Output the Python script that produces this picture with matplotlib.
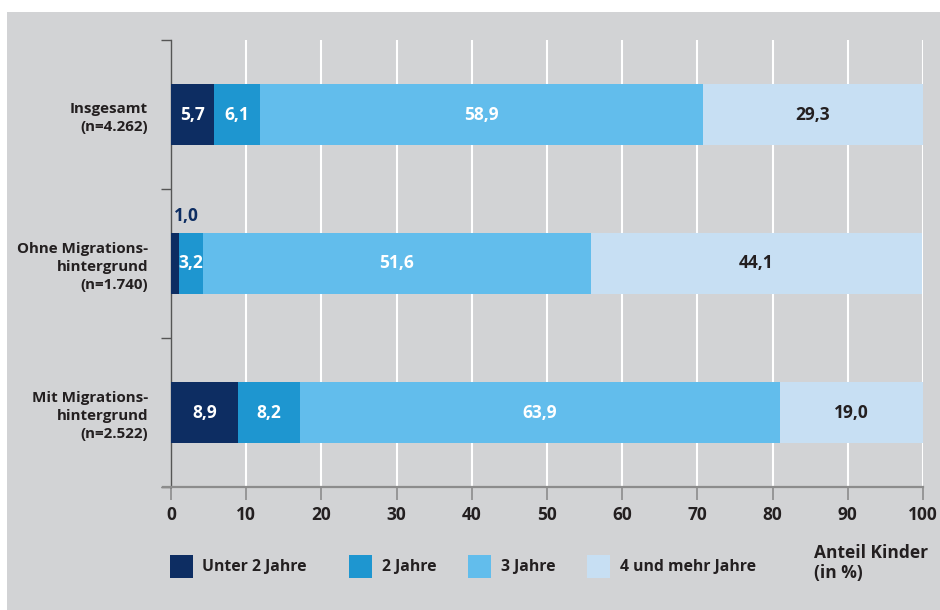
import matplotlib
matplotlib.use("Agg")
import matplotlib.pyplot as plt
from matplotlib.patches import Rectangle
from matplotlib.lines import Line2D
import numpy as np

# data
groups = ["Insgesamt\n(n=4.262)", "Ohne Migrations-\nhintergrund\n(n=1.740)", "Mit Migrations-\nhintergrund\n(n=2.522)"]
series = ["Unter 2 Jahre", "2 Jahre", "3 Jahre", "4 und mehr Jahre"]
unter2 = [5.7, 1.0, 8.9]
zwei = [6.1, 3.2, 8.2]
drei = [58.9, 51.6, 63.9]
vier = [29.3, 44.1, 19.0]
xticks = [0, 10, 20, 30, 40, 50, 60, 70, 80, 90, 100]

colors = ["#0d2d62", "#1e96d0", "#62bdec", "#c7dff3"]
text_colors = ["white", "white", "white", "#231f20"]
bg = "#d2d3d5"
dark = "#231f20"

plt.rcParams['font.family'] = ['Open Sans', 'DejaVu Sans']

fig = plt.figure(figsize=(9.4, 6.1), dpi=100)
fig.patch.set_facecolor("white")
fig.patches.append(Rectangle((7/940, 0), 1, 1 - 12/610, transform=fig.transFigure,
                             facecolor=bg, edgecolor="none", zorder=-10))

ax = fig.add_axes([171/940, 1 - 487/610, 752/940, 447/610])
ax.set_facecolor("none")
ax.set_zorder(2)

y = np.arange(len(groups))
left = np.zeros(len(groups))
for vals, col, tcol in zip([unter2, zwei, drei, vier], colors, text_colors):
    vals = np.array(vals)
    ax.barh(y, vals, left=left, height=0.41, color=col, zorder=3)
    for i, v in enumerate(vals):
        lab = f"{v:.1f}".replace(".", ",")
        if v < 2:
            # too narrow: label above the bar
            ax.text(left[i] + 0.4, y[i] - 0.32, lab, ha="left", va="center",
                    color=col, fontsize=12.5, fontweight="bold", zorder=4)
        else:
            ax.text(left[i] + v / 2, y[i], lab, ha="center", va="center",
                    color=tcol, fontsize=12.5, fontweight="bold", zorder=4)
    left = left + vals

ax.set_xlim(0, 100)
ax.set_ylim(len(groups) - 0.5, -0.5)
ax.set_xticks(xticks)
ax.set_xticklabels([str(t) for t in xticks], fontsize=12.5, fontweight="bold", color=dark)
ax.tick_params(axis="x", length=9, width=1.2, color="#8c8c8c", pad=5)
ax.grid(axis="x", color="white", linewidth=1.5, zorder=1)

ax.set_yticks(y)
ax.set_yticklabels(groups, fontsize=10.9, fontweight="bold", color=dark, linespacing=1.38)
ax.set_yticks(np.arange(len(groups) + 1) - 0.5, minor=True)
ax.tick_params(axis="y", which="major", length=0, pad=16.5)
ax.tick_params(axis="y", which="minor", length=7, width=1, color="#555555")
for lab in ax.get_yticklabels():
    lab.set_horizontalalignment("right")

for s in ["top", "right", "bottom"]:
    ax.spines[s].set_visible(False)
ax.spines["left"].set_color("#555555")
ax.spines["left"].set_linewidth(1)
ax.add_line(Line2D([-8/752, 1], [0, 0], transform=ax.transAxes, color="#8c8c8c",
                   linewidth=1.6, clip_on=False, zorder=5))

# legend
sq_x = [170, 349, 468, 587]
tx_x = [202, 382, 501, 620]
for sx, tx, col, name in zip(sq_x, tx_x, colors, series):
    fig.patches.append(Rectangle((sx/940, 1 - 578/610), 23/940, 23/610,
                                 transform=fig.transFigure, facecolor=col, edgecolor="none"))
    fig.text(tx/940, 1 - 567/610, name, ha="left", va="center", fontsize=11.3,
             fontweight="bold", color=dark)

fig.text(814/940, 1 - 563/610, "Anteil Kinder\n(in %)", ha="left", va="center",
         fontsize=12.5, fontweight="bold", color=dark, linespacing=1.15)

fig.savefig("out.png", dpi=100, facecolor=fig.get_facecolor())
